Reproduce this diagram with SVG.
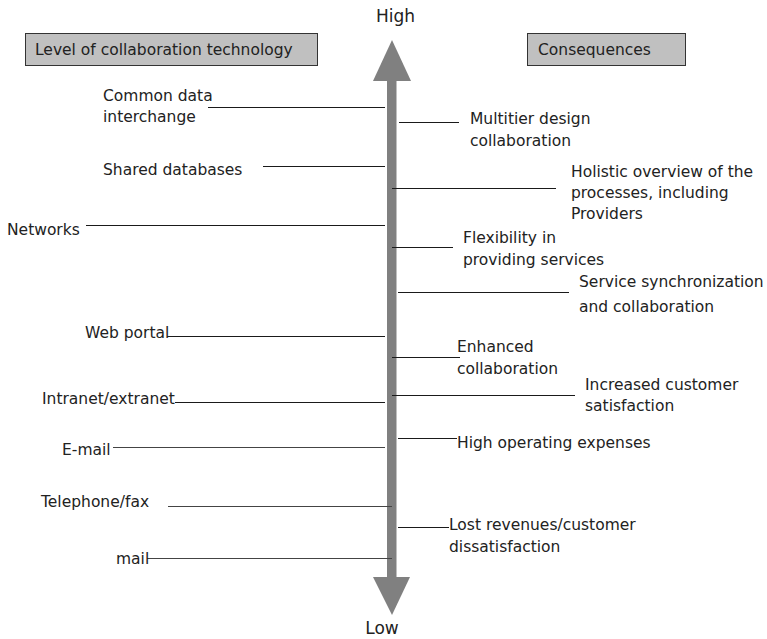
<svg xmlns="http://www.w3.org/2000/svg" width="767" height="639" viewBox="0 0 767 639">
<style>
text{font-family:"DejaVu Sans","Liberation Sans",sans-serif;font-size:15.5px;fill:#222}
.big{font-size:17px}
.hdr{fill:#c0c0c0;stroke:#333;stroke-width:1}
.ln{stroke:#1a1a1a;stroke-width:1;fill:none}
.lg{stroke:#444;stroke-width:1;fill:none}
.axis{fill:#808080}
</style>
<rect width="767" height="639" fill="#fff"/>
<g id="axis">
<rect class="axis" x="387" y="80" width="9.5" height="498"/>
<polygon class="axis" points="392,40 411,81 373,81"/>
<polygon class="axis" points="392,615 410,577 373,577"/>
<text class="big" x="395.5" y="22" text-anchor="middle">High</text>
<text class="big" x="382" y="634" text-anchor="middle">Low</text>
</g>
<g id="header-left"><rect class="hdr" x="25.5" y="33.5" width="292" height="32"/><text x="35" y="55">Level of collaboration technology</text></g>
<g id="header-right"><rect class="hdr" x="527.5" y="33.5" width="158" height="32"/><text x="538" y="55">Consequences</text></g>
<g id="connectors">
<line class="ln" x1="208" y1="107.5" x2="385" y2="107.5"/>
<line class="ln" x1="263" y1="166.5" x2="385" y2="166.5"/>
<line class="ln" x1="86" y1="225.5" x2="385" y2="225.5"/>
<line class="ln" x1="167" y1="336.5" x2="385" y2="336.5"/>
<line class="ln" x1="175" y1="402.5" x2="385" y2="402.5"/>
<line class="lg" x1="113" y1="447.5" x2="385" y2="447.5"/>
<line class="lg" x1="168" y1="506.5" x2="392" y2="506.5"/>
<line class="lg" x1="147" y1="558.5" x2="392" y2="558.5"/>
<line class="ln" x1="399" y1="122.5" x2="459" y2="122.5"/>
<line class="ln" x1="392" y1="188.5" x2="556" y2="188.5"/>
<line class="ln" x1="392" y1="247.5" x2="453" y2="247.5"/>
<line class="ln" x1="398" y1="292.5" x2="569" y2="292.5"/>
<line class="ln" x1="392" y1="357.5" x2="460" y2="357.5"/>
<line class="ln" x1="392" y1="395.5" x2="575" y2="395.5"/>
<line class="ln" x1="398" y1="438.5" x2="457" y2="438.5"/>
<line class="ln" x1="398" y1="527.5" x2="449" y2="527.5"/>
</g>
<g id="n-common"><text x="103" y="101">Common data</text><text x="103" y="122">interchange</text></g>
<g id="n-shared"><text x="103" y="175">Shared databases</text></g>
<g id="n-networks"><text x="7" y="235">Networks</text></g>
<g id="n-web"><text x="85" y="338">Web portal</text></g>
<g id="n-intranet"><text x="42" y="404">Intranet/extranet</text></g>
<g id="n-email"><text x="62" y="455">E-mail</text></g>
<g id="n-tel"><text x="41" y="507">Telephone/fax</text></g>
<g id="n-mail"><text x="116" y="564">mail</text></g>
<g id="c-multitier"><text x="470" y="124">Multitier design</text><text x="470" y="146">collaboration</text></g>
<g id="c-holistic"><text x="571" y="177">Holistic overview of the</text><text x="571" y="198">processes, including</text><text x="571" y="219">Providers</text></g>
<g id="c-flex"><text x="463" y="243">Flexibility in</text><text x="463" y="265">providing services</text></g>
<g id="c-service"><text x="579" y="287">Service synchronization</text><text x="579" y="312">and collaboration</text></g>
<g id="c-enhanced"><text x="457" y="352">Enhanced</text><text x="457" y="374">collaboration</text></g>
<g id="c-increased"><text x="585" y="390">Increased customer</text><text x="585" y="411">satisfaction</text></g>
<g id="c-high"><text x="457" y="448">High operating expenses</text></g>
<g id="c-lost"><text x="449" y="530">Lost revenues/customer</text><text x="449" y="552">dissatisfaction</text></g>
</svg>
